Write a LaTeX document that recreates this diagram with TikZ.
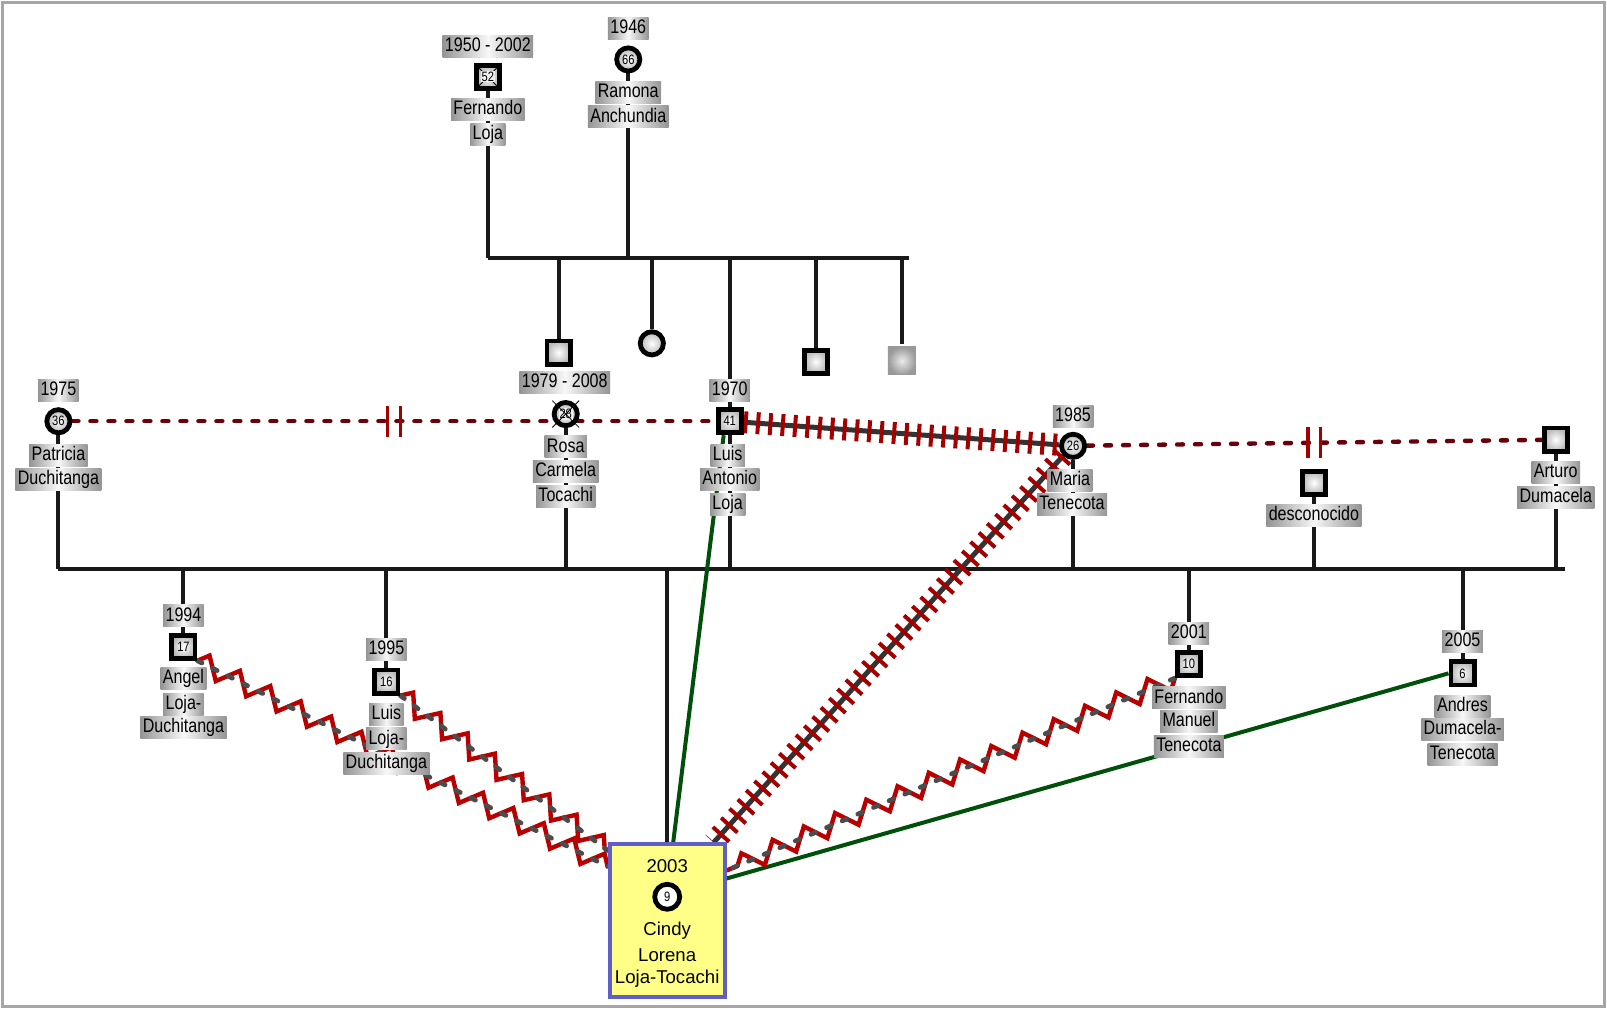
\documentclass[tikz,border=0pt]{standalone}
\usepackage{fontspec}
\setmainfont{Liberation Sans}[FakeStretch=0.82]
\newfontfamily\cindyfont{Liberation Sans}
\usetikzlibrary{backgrounds,decorations.pathmorphing}

\definecolor{darkred}{RGB}{105,0,10}
\definecolor{zigred}{RGB}{185,0,0}
\definecolor{hatchred}{RGB}{165,0,0}
\definecolor{bondgreen}{RGB}{0,80,10}
\definecolor{boxblue}{RGB}{95,95,200}
\definecolor{boxyellow}{RGB}{255,255,135}

\newcommand{\agenum}[1]{{\setlength{\fboxsep}{0.4pt}\colorbox{black!6}{#1}}}

\tikzset{
  lbl/.style={inner xsep=1.2pt, inner ysep=0.9pt, text height=7.2pt, text depth=2pt,
    left color=black!42, right color=black!42, middle color=black!3,
    font=\fontsize{9.8}{10}\selectfont},
  male/.style={rectangle, draw, line width=2.4pt, minimum size=11.6pt, inner sep=0pt,
    inner color=white, outer color=black!28, font=\fontsize{6.8}{7}\selectfont},
  female/.style={male, circle},
  nobox/.style={male, draw=none, minimum size=14pt, inner color=black!8, outer color=black!40},
  dead/.style={path picture={\draw[line width=0.4pt]
    (path picture bounding box.north west) -- (path picture bounding box.south east)
    (path picture bounding box.north east) -- (path picture bounding box.south west);}},
  life/.style={line width=2pt, black!90},
  split/.style={draw=darkred, line width=2.2pt, line cap=round, dash pattern=on 3pt off 6pt},
  cut/.style={hatchred, line width=1.6pt},
  close/.style={bondgreen, line width=2pt},
  hostile/.style={black!70, line width=2.4pt, line cap=round, dash pattern=on 2.5pt off 6pt,
    preaction={draw=zigred, solid, line width=2.2pt, decorate,
      decoration={zigzag, segment length=17pt, amplitude=5pt}}},
  hatched/.style={black!80, line width=2.5pt,
    postaction={draw=hatchred, line width=11pt, dash pattern=on 2pt off 4.2pt}}
}

\begin{document}
\begin{tikzpicture}[x=0.5125pt, y=-0.5125pt]
\useasboundingbox (0,0) rectangle (1568,984.5);
\draw[black!35, line width=1.5pt] (2.9,2.9) rectangle (1565.1,982.3);

% grandparents
\node[male, dead] (fl) at (476,75) {\agenum{52}};
\node[lbl] (fl-yr) at (476,45) {1950 - 2002};
\node[lbl] (fl-n1) at (476,107) {Fernando};
\node[lbl] (fl-n2) at (476,131) {Loja};
\node[female] (ra) at (613,58) {66};
\node[lbl] (ra-yr) at (613,28) {1946};
\node[lbl] (ra-n1) at (613,90) {Ramona};
\node[lbl] (ra-n2) at (613,114) {Anchundia};
\coordinate (top-l) at (476,252);
\coordinate (top-r) at (887,252);

% siblings
\node[male] (s1) at (545,344) {};
\node[female] (s2) at (636,335) {};
\node[male] (s3) at (796,353) {};
\node[nobox] (s4) at (880,352) {};

% parents
\node[female] (pd) at (57,411) {36};
\node[lbl] (pd-yr) at (57,381) {1975};
\node[lbl] (pd-n1) at (57,444) {Patricia};
\node[lbl] (pd-n2) at (57,468) {Duchitanga};
\node[female, dead] (rc) at (552,404) {\agenum{28}};
\node[lbl] (rc-yr) at (551,373) {1979 - 2008};
\node[lbl] (rc-n1) at (552,436) {Rosa};
\node[lbl] (rc-n2) at (552,460) {Carmela};
\node[lbl] (rc-n3) at (552,484) {Tocachi};
\node[male] (la) at (712,411) {41};
\node[lbl] (la-yr) at (712,381) {1970};
\node[lbl] (la-n1) at (710,444) {Luis};
\node[lbl] (la-n2) at (712,468) {Antonio};
\node[lbl] (la-n3) at (710,492) {Loja};
\node[female] (ma) at (1047,435) {26};
\node[lbl] (ma-yr) at (1047,406) {1985};
\node[lbl] (ma-n1) at (1044,469) {Maria};
\node[lbl] (ma-n2) at (1046,492) {Tenecota};
\node[male] (dc) at (1282,471) {};
\node[lbl] (dc-n1) at (1282,503) {desconocido};
\node[male] (ad) at (1518,429) {};
\node[lbl] (ad-n1) at (1518,461) {Arturo};
\node[lbl] (ad-n2) at (1518,485) {Dumacela};
\coordinate (mid-l) at (57,555);
\coordinate (mid-r) at (1527,555);

% children
\node[male] (an) at (179,631) {17};
\node[lbl] (an-yr) at (179,601) {1994};
\node[lbl] (an-n1) at (179,662) {Angel};
\node[lbl] (an-n2) at (179,687) {Loja-};
\node[lbl] (an-n3) at (179,710) {Duchitanga};
\node[male] (lc) at (377,665) {16};
\node[lbl] (lc-yr) at (377,634) {1995};
\node[lbl] (lc-n1) at (377,697) {Luis};
\node[lbl] (lc-n2) at (377,721) {Loja-};
\node[lbl] (lc-n3) at (377,745) {Duchitanga};
\node[male] (fm) at (1160,648) {10};
\node[lbl] (fm-yr) at (1160,618) {2001};
\node[lbl] (fm-n1) at (1160,681) {Fernando};
\node[lbl] (fm-n2) at (1160,704) {Manuel};
\node[lbl] (fm-n3) at (1160,728) {Tenecota};
\node[male] (ac) at (1427,657) {6};
\node[lbl] (ac-yr) at (1427,626) {2005};
\node[lbl] (ac-n1) at (1427,689) {Andres};
\node[lbl] (ac-n2) at (1427,712) {Dumacela-};
\node[lbl] (ac-n3) at (1427,736) {Tenecota};

% index person
\node[draw=boxblue, line width=2pt, fill=boxyellow, minimum width=57.5pt, minimum height=76.4pt] (cl) at (651,898.5) {};
\node[font=\cindyfont\fontsize{9.3}{10}\selectfont] (cl-yr) at (651,845) {2003};
\node[female, inner color=white, outer color=white, line width=2.4pt, minimum size=12.5pt] (cl-sym) at (651,875) {9};
\node[font=\cindyfont\fontsize{9.3}{10}\selectfont] (cl-n1) at (651,908) {Cindy};
\node[font=\cindyfont\fontsize{9.3}{10}\selectfont] (cl-n2) at (651,932) {Lorena};
\node[font=\cindyfont\fontsize{9.3}{10}\selectfont] (cl-n3) at (651,955) {Loja-Tocachi};

\begin{scope}[on background layer]
% couples
\draw[split] (pd) -- coordinate[pos=0.5] (div1) (la);
\draw[hatched] (la) -- (ma);
\draw[split] (ma) -- coordinate[pos=0.5] (div2) (ad);
\draw[cut] ([xshift=-3.2pt]div1) ++(0,-15) -- ++(0,30);
\draw[cut] ([xshift=3.2pt]div1) ++(0,-15) -- ++(0,30);
\draw[cut] ([xshift=-3.2pt]div2) ++(0,-15) -- ++(0,30);
\draw[cut] ([xshift=3.2pt]div2) ++(0,-15) -- ++(0,30);

% first family
\draw[life] (fl) -- (fl |- top-l);
\draw[life] (ra) -- (ra |- top-l);
\draw[life] (top-l) -- (top-r);
\draw[life] (s1 |- top-l) -- (s1);
\draw[life] (s2 |- top-l) -- (s2);
\draw[life] (la |- top-l) -- (la);
\draw[life] (s3 |- top-l) -- (s3);
\draw[life] (s4 |- top-l) -- (s4);

% second family
\draw[life] (pd) -- (pd |- mid-l);
\draw[life] (rc) -- (rc |- mid-l);
\draw[life] (la) -- (la |- mid-l);
\draw[life] (ma) -- (ma |- mid-l);
\draw[life] (dc) -- (dc |- mid-l);
\draw[life] (ad) -- (ad |- mid-l);
\draw[life] (mid-l) -- (mid-r);
\draw[life] (an |- mid-l) -- (an);
\draw[life] (lc |- mid-l) -- (lc);
\draw[life] (cl.north |- mid-l) -- (cl.north);
\draw[life] (fm |- mid-l) -- (fm);
\draw[life] (ac |- mid-l) -- (ac);

% emotional ties
\draw[close] ([xshift=-3pt]la.south) -- ([xshift=3pt]cl.north);
\draw[close] (ac.west) -- ([yshift=-18pt]cl.north east);
\draw[hatched] (ma.south west) -- ([xshift=-6.5pt]cl.north east);
\draw[hostile] (an.south east) -- ([yshift=-12pt]cl.north west);
\draw[hostile] (lc.south east) -- ([yshift=-4pt]cl.north west);
\draw[hostile] (fm.south west) -- ([yshift=-14pt]cl.north east);
\end{scope}

% crosses over Rosa
\draw[line width=0.4pt] ([shift={(135:2.5pt)}]rc.north west) -- ([shift={(-45:2.5pt)}]rc.south east);
\draw[line width=0.4pt] ([shift={(45:2.5pt)}]rc.north east) -- ([shift={(-135:2.5pt)}]rc.south west);
\end{tikzpicture}
\end{document}
